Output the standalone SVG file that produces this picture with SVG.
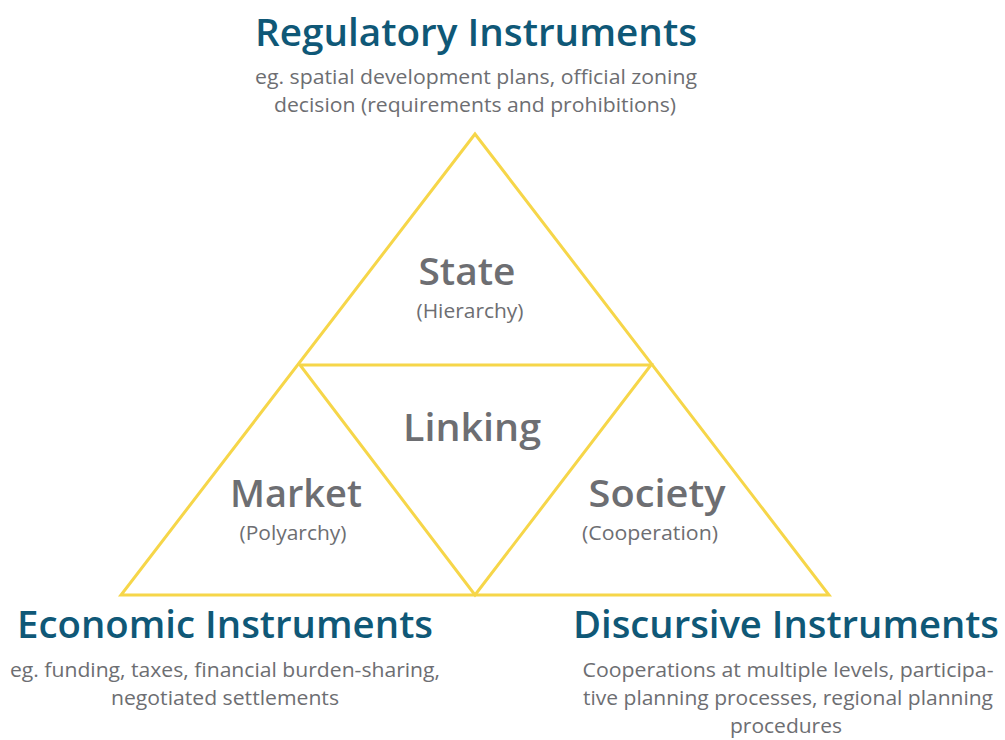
<svg xmlns="http://www.w3.org/2000/svg" width="1005" height="740" viewBox="0 0 1005 740">
<style>
.tri{fill:none;stroke:#F6D649;stroke-width:3;stroke-linejoin:miter}
.h{font-family:"Open Sans","Liberation Sans",sans-serif;font-weight:600;fill:#0F5877;font-size:38px;text-anchor:middle}
.s{font-family:"Open Sans","Liberation Sans",sans-serif;fill:#6D6E72;font-size:20px;text-anchor:middle}
.n{font-family:"Open Sans","Liberation Sans",sans-serif;font-weight:600;fill:#6D6E72;font-size:38px;text-anchor:middle}
.p{font-family:"Open Sans","Liberation Sans",sans-serif;fill:#6D6E72;font-size:20px;text-anchor:middle}
</style>
<rect width="1005" height="740" fill="#ffffff"/>
<g id="connectors">
<polygon class="tri" points="475,134 121,595 829,595"/>
<polygon class="tri" points="300,365 651,365 475,595"/>
</g>
<g id="regulatory">
<text class="h" x="476" y="46" textLength="442" lengthAdjust="spacingAndGlyphs">Regulatory Instruments</text>
<text class="s" x="476" y="84" textLength="442" lengthAdjust="spacingAndGlyphs">eg. spatial development plans, official zoning</text>
<text class="s" x="475" y="112" textLength="402" lengthAdjust="spacingAndGlyphs">decision (requirements and prohibitions)</text>
</g>
<g id="state">
<text class="n" x="467" y="285" textLength="97" lengthAdjust="spacingAndGlyphs">State</text>
<text class="p" x="470" y="318" textLength="107" lengthAdjust="spacingAndGlyphs">(Hierarchy)</text>
</g>
<g id="linking">
<text class="n" x="472" y="441" textLength="138" lengthAdjust="spacingAndGlyphs">Linking</text>
</g>
<g id="market">
<text class="n" x="296" y="507" textLength="132" lengthAdjust="spacingAndGlyphs">Market</text>
<text class="p" x="293" y="540" textLength="107" lengthAdjust="spacingAndGlyphs">(Polyarchy)</text>
</g>
<g id="society">
<text class="n" x="657" y="507" textLength="137" lengthAdjust="spacingAndGlyphs">Society</text>
<text class="p" x="650" y="540" textLength="136" lengthAdjust="spacingAndGlyphs">(Cooperation)</text>
</g>
<g id="economic">
<text class="h" x="225" y="638" textLength="416" lengthAdjust="spacingAndGlyphs">Economic Instruments</text>
<text class="s" x="225" y="677" textLength="430" lengthAdjust="spacingAndGlyphs">eg. funding, taxes, financial burden-sharing,</text>
<text class="s" x="225" y="705" textLength="228" lengthAdjust="spacingAndGlyphs">negotiated settlements</text>
</g>
<g id="discursive">
<text class="h" x="786" y="638" textLength="426" lengthAdjust="spacingAndGlyphs">Discursive Instruments</text>
<text class="s" x="788" y="677" textLength="411" lengthAdjust="spacingAndGlyphs">Cooperations at multiple levels, participa-</text>
<text class="s" x="788" y="705" textLength="410" lengthAdjust="spacingAndGlyphs">tive planning processes, regional planning</text>
<text class="s" x="786" y="733" textLength="112" lengthAdjust="spacingAndGlyphs">procedures</text>
</g>
</svg>
